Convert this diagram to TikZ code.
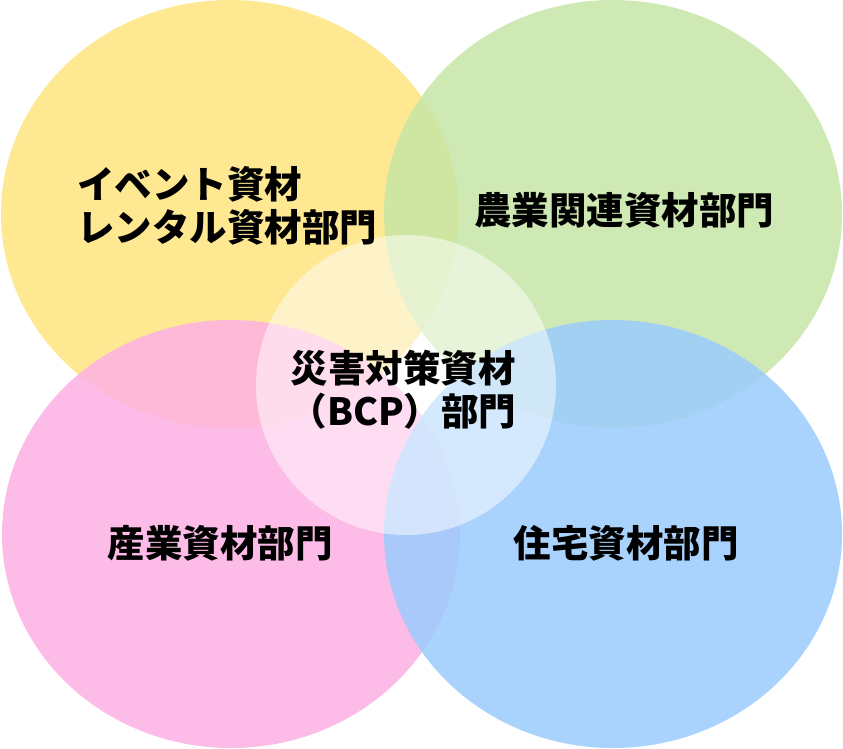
\documentclass[tikz,border=0pt]{standalone}
\usepackage{fontspec}
\newfontfamily\jp{Noto Sans CJK JP Black}
\definecolor{cyellow}{RGB}{254,232,145}
\definecolor{cgreen}{RGB}{199,230,167}
\definecolor{cpink}{RGB}{253,177,228}
\definecolor{cblue}{RGB}{154,204,253}
\tikzset{
  lobe/.style={fill opacity=0.85, draw=none},
  lbl/.style={font=\jp\fontsize{37.5}{43}\selectfont, text=black, inner sep=0pt},
}
\begin{document}
\begin{tikzpicture}[x=1pt,y=-1pt]
\useasboundingbox (0,0) rectangle (843,748);
\fill[white] (0,0) rectangle (843,748);
\fill[cyellow] (230,214) ellipse [x radius=229, y radius=214];
\fill[cgreen,lobe] (613,214) ellipse [x radius=229, y radius=214];
\fill[cpink,lobe] (231,534) ellipse [x radius=229, y radius=214];
\fill[cblue,lobe] (613,534) ellipse [x radius=229, y radius=214];
\fill[white,fill opacity=0.5] (406,385) circle [radius=150];
\node[lbl, anchor=west, align=left] (ev) at (77,206) {イベント資材\\レンタル資材部門};
\node[lbl] (nog) at (624,210) {農業関連資材部門};
\node[lbl, align=center] (bcp) at (403,390) {災害対策資材\\（BCP）部門};
\node[lbl] (san) at (220,543) {産業資材部門};
\node[lbl] (jyu) at (626,543) {住宅資材部門};
\end{tikzpicture}
\end{document}
